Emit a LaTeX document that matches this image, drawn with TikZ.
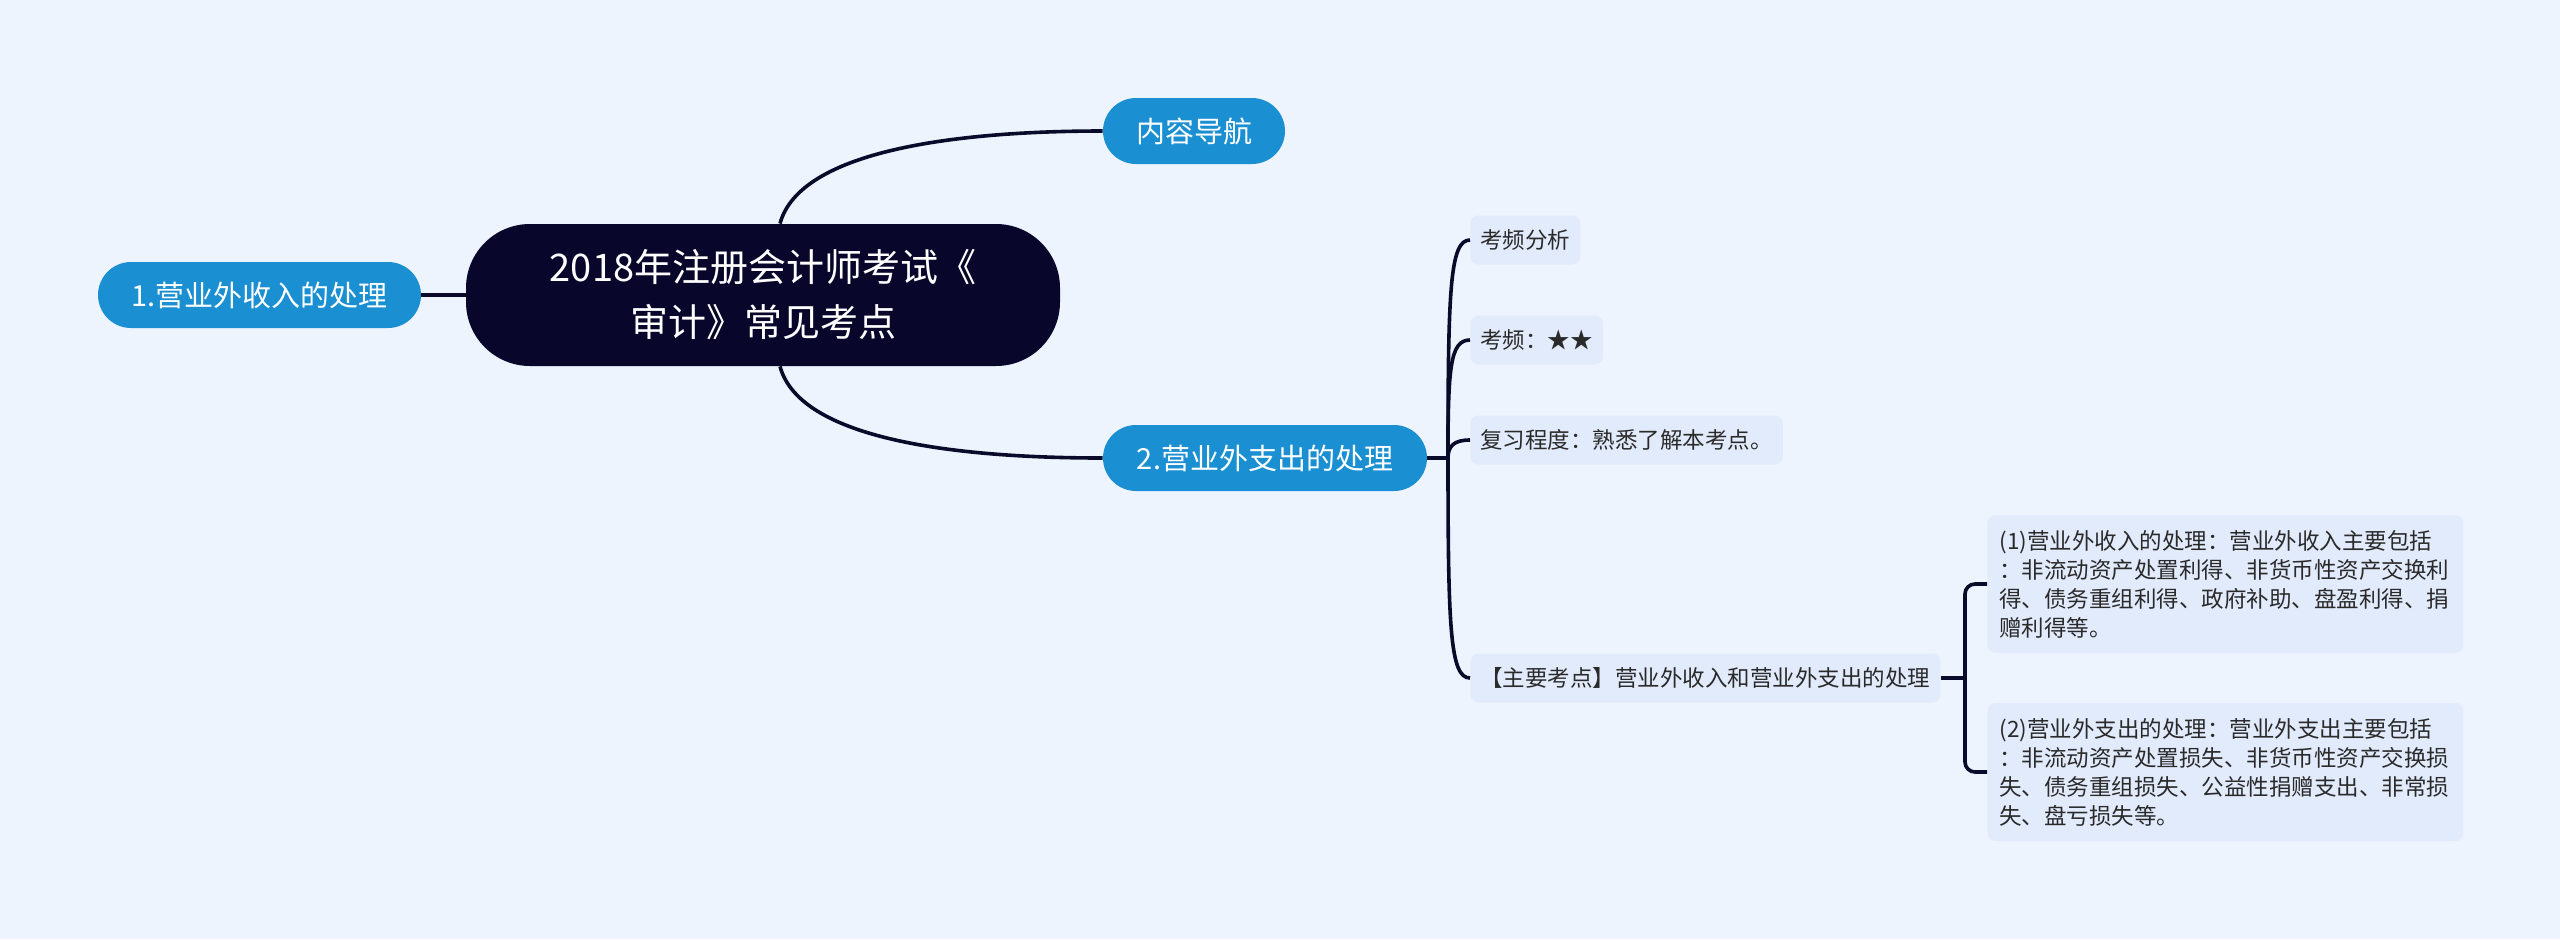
\documentclass[tikz,border=0pt]{standalone}
\usepackage{fontspec}
\setmainfont{Noto Sans CJK SC}
\definecolor{bgc}{HTML}{EEF4FE}
\definecolor{rootc}{HTML}{08062B}
\definecolor{bluec}{HTML}{1A8FD2}
\definecolor{boxc}{HTML}{E2EBFC}
\definecolor{linec}{HTML}{0A0A2A}
\definecolor{txtc}{HTML}{2A2A2A}
\tikzset{
  rootnode/.style={fill=rootc, text=white, rounded corners=32pt, minimum width=297pt, minimum height=71pt,
    align=center, font=\fontsize{19pt}{27.5pt}\selectfont, inner sep=0pt},
  bluenode/.style={fill=bluec, text=white, rounded corners=16.5pt, minimum height=33pt,
    font=\fontsize{14.5pt}{17pt}\selectfont, inner sep=0pt},
  leafnode/.style={fill=boxc, text=txtc, rounded corners=4pt, minimum height=24.5pt, anchor=west,
    font=\fontsize{11.25pt}{14pt}\selectfont, inner xsep=5pt, inner ysep=0pt},
  textnode/.style={fill=boxc, text=txtc, rounded corners=4pt, minimum height=69pt, anchor=west,
    font=\fontsize{11.25pt}{14.5pt}\selectfont, inner xsep=6pt, inner ysep=0pt, align=left, text width=226pt},
  conn/.style={draw=linec, line width=1.8pt},
}
\begin{document}
\begin{tikzpicture}[x=0.5pt,y=-0.5pt]
\fill[bgc] (0,0) rectangle (2560,939);
\useasboundingbox (0,0) rectangle (2560,939);

\node[rootnode] (root) at (763,295) {2018年注册会计师考试《\\审计》常见考点};
\node[bluenode, minimum width=161.5pt] (left1) at (259.5,295) {1.营业外收入的处理};
\node[bluenode, minimum width=91pt] (nav) at (1194,131) {内容导航};
\node[bluenode, minimum width=162pt] (b2) at (1265,458) {2.营业外支出的处理};

\node[leafnode] (k1) at (1470,240) {考频分析};
\node[leafnode] (k2) at (1470,340) {考频：★★};
\node[leafnode] (k3) at (1470,440) {复习程度：熟悉了解本考点。};
\node[leafnode] (k4) at (1470,678) {【主要考点】营业外收入和营业外支出的处理};

\node[textnode] (s1) at (1987,584) {(1)营业外收入的处理：营业外收入主要包括\\：非流动资产处置利得、非货币性资产交换利\\得、债务重组利得、政府补助、盘盈利得、捐\\赠利得等。};
\node[textnode] (s2) at (1987,772) {(2)营业外支出的处理：营业外支出主要包括\\：非流动资产处置损失、非货币性资产交换损\\失、债务重组损失、公益性捐赠支出、非常损\\失、盘亏损失等。};

% root connectors
\draw[conn] (left1.east) -- (root.west);
\draw[conn] ([xshift=8.5pt]root.north) .. controls +(20,-74) and +(-143,0) .. (nav.west);
\draw[conn] ([xshift=8.5pt]root.south) .. controls +(20,74) and +(-143,0) .. (b2.west);

% b2 branch
\coordinate (j1) at (1448,458);
\draw[conn] (b2.east) -- (j1);
\draw[conn] (j1) .. controls +(0,-170) and +(-20,0) .. (k1.west);
\draw[conn] (j1) .. controls +(0,-90) and +(-20,0) .. (k2.west);
\draw[conn] (j1) .. controls +(0,-12) and +(-16,0) .. (k3.west);
\draw[conn] (j1) .. controls +(0,170) and +(-20,0) .. (k4.west);

% k4 bracket
\coordinate (j2) at (1965,678);
\draw[conn] (k4.east) -- (j2);
\draw[conn, rounded corners=5pt] (j2) |- (s1.west);
\draw[conn, rounded corners=5pt] (j2) |- (s2.west);
\end{tikzpicture}
\end{document}
